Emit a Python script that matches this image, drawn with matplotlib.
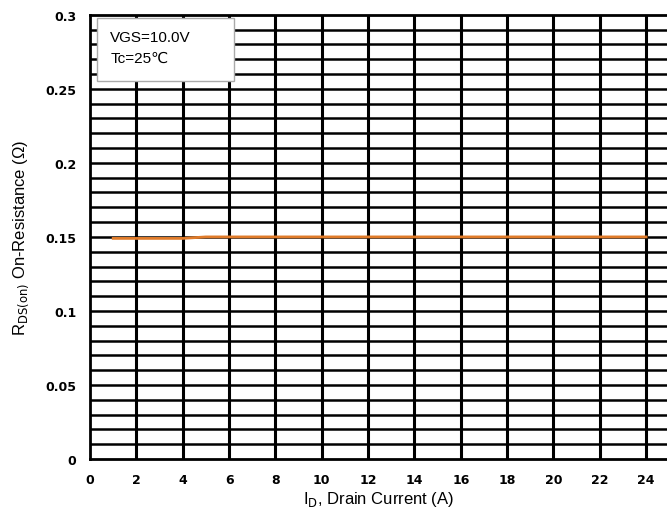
import matplotlib.pyplot as plt
from matplotlib.patches import Rectangle
import numpy as np

current = [1, 2, 3, 4, 5, 6, 8, 10, 12, 14, 16, 18, 20, 22, 24]
rds_on = [0.149, 0.149, 0.149, 0.149, 0.150, 0.150, 0.150, 0.150, 0.150,
          0.150, 0.150, 0.150, 0.150, 0.150, 0.150]

x_ticks = list(range(0, 25, 2))
y_ticks = [0, 0.05, 0.1, 0.15, 0.2, 0.25, 0.3]
y_tick_labels = ["0", "0.05", "0.1", "0.15", "0.2", "0.25", "0.3"]

fig = plt.figure(figsize=(6.67, 5.1), dpi=100)
ax = fig.add_axes([0.135, 0.098, 0.865, 0.871])

for yv in np.arange(0.01, 0.3, 0.01):
    ax.axhline(yv, color="black", lw=1.8, zorder=1)
for xv in x_ticks[1:]:
    ax.axvline(xv, color="black", lw=2.2, zorder=1)

ax.plot(current, rds_on, color="#E07B2A", lw=2, zorder=3)

ax.set_xlim(0, 24.9)
ax.set_ylim(0, 0.3)
ax.set_xticks(x_ticks)
ax.set_yticks(y_ticks)
ax.set_yticklabels(y_tick_labels)
ax.tick_params(length=0, labelsize=9, pad=10)
for lab in ax.get_xticklabels() + ax.get_yticklabels():
    lab.set_fontweight("bold")

for side in ["left", "bottom", "top"]:
    ax.spines[side].set_linewidth(2)
ax.spines["right"].set_visible(False)

ax.set_xlabel("I$_{\\mathrm{D}}$, Drain Current (A)", fontsize=12, family="Liberation Sans", labelpad=2)
ax.set_ylabel("R$_{\\mathrm{DS(on)}}$ On-Resistance (Ω)", fontsize=12, family="Liberation Sans", labelpad=10)

# annotation box (axes fraction)
box = Rectangle((0.012, 0.85), 0.238, 0.143, transform=ax.transAxes, facecolor="white",
                edgecolor="#aaaaaa", lw=1, zorder=4)
ax.add_patch(box)
ax.text(0.035, 0.965, "VGS=10.0V\nTc=25℃", transform=ax.transAxes, va="top", ha="left",
        fontsize=11, family=["Liberation Sans", "DejaVu Sans"], linespacing=1.6, zorder=5)

fig.savefig("out.png", dpi=100)
